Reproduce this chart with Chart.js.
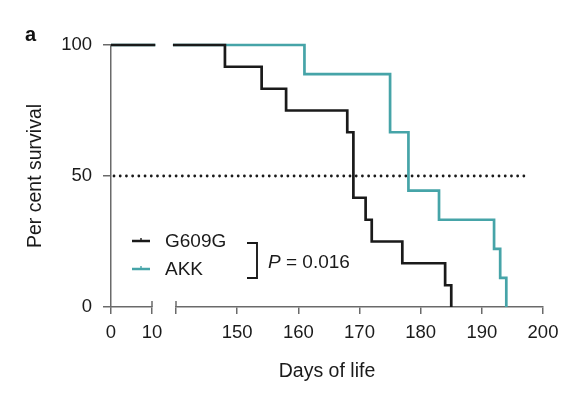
<!DOCTYPE html>
<html>
<head>
<meta charset="utf-8">
<script src="https://cdn.jsdelivr.net/npm/chart.js@4.4.0/dist/chart.umd.min.js"></script>
<style>
  html, body { margin: 0; padding: 0; background: #ffffff; }
  #wrap { width: 576px; height: 405px; position: relative; }
</style>
</head>
<body>
<div id="wrap"><canvas id="c" width="576" height="405"></canvas></div>
<script>
// ---------------- data ----------------
const seriesNames = ['G609G', 'AKK'];
// early axis segment (days 0-10): all animals alive
const earlyDays = [0, 10.8];
const earlySurvival = [100, 100];
// late axis segment (days 140-200)
const g609gDays = [139.5, 148, 154, 158, 168, 169, 171, 172, 177, 184, 185];
const g609gSurvival = [100, 91.7, 83.3, 75, 66.7, 41.7, 33.3, 25, 16.7, 8.3, 0];
const akkDays = [139.5, 161, 175, 178, 183, 192, 193, 194];
const akkSurvival = [100, 88.9, 66.7, 44.4, 33.3, 22.2, 11.1, 0];
const earlyTicks = [0, 10];
const lateTicks = [140, 150, 160, 170, 180, 190, 200];
const yTicks = [0, 50, 100];
const medianLevel = 50;
const medianLineEnd = 197.5;
const pValueLabel = 'P';
const pValueText = ' = 0.016';
const panelLabel = 'a';
const xTitle = 'Days of life';
const yTitle = 'Per cent survival';

// ---------------- style ----------------
const FONT = "'Liberation Sans', Arial, Helvetica, sans-serif";
const colors = ['#1a1a1a', '#46a4a8'];
const axisColor = '#6a6a6a';
const textColor = '#1a1a1a';
const tickFont = { family: FONT, size: 18.5 };
const titleFont = { family: FONT, size: 19.5 };

function pts(xs, ys) { return xs.map((x, i) => ({ x: x, y: ys[i] })); }

function lineDs(label, data, axis, color) {
  return {
    label: label, data: data, xAxisID: axis, yAxisID: 'y',
    borderColor: color, backgroundColor: color, borderWidth: 2.7,
    stepped: 'before', pointRadius: 0, pointHoverRadius: 0,
    fill: false, clip: false, borderCapStyle: 'butt', borderJoinStyle: 'miter'
  };
}

function xAxis(min, max, tickVals, weight, hideFirst) {
  return {
    type: 'linear', position: 'bottom', stack: 'days', stackWeight: weight,
    min: min, max: max,
    afterBuildTicks: s => { s.ticks = tickVals.map(v => ({ value: v })); },
    afterFit: s => { s.height = 40; },
    ticks: {
      font: tickFont, color: textColor, padding: 8, maxRotation: 0, autoSkip: false,
      callback: v => (hideFirst && v === tickVals[0]) ? '' : String(v)
    },
    grid: { drawOnChartArea: false, drawTicks: true, tickLength: 7, color: axisColor, lineWidth: 1.5 },
    border: { display: true, color: axisColor, width: 1.5 }
  };
}

const extras = {
  id: 'extras',
  beforeDatasetsDraw(chart) {
    const { ctx, chartArea, scales } = chart;
    const yy = scales.y.getPixelForValue(medianLevel);
    ctx.save();
    ctx.strokeStyle = '#1a1a1a';
    ctx.lineWidth = 2.8;
    ctx.lineCap = 'round';
    ctx.setLineDash([0.01, 6.2]);
    ctx.beginPath();
    ctx.moveTo(chartArea.left + 3, yy);
    ctx.lineTo(scales.xb.getPixelForValue(medianLineEnd), yy);
    ctx.stroke();
    ctx.restore();
  },
  afterDraw(chart) {
    const { ctx, chartArea, scales } = chart;
    const L = chartArea.left, B = chartArea.bottom;
    ctx.save();
    // break caps on the axis
    ctx.strokeStyle = axisColor; ctx.lineWidth = 1.5;
    [scales.xa.getPixelForValue(earlyTicks[earlyTicks.length - 1]), scales.xb.getPixelForValue(lateTicks[0])].forEach(px => {
      ctx.beginPath(); ctx.moveTo(px, B - 6); ctx.lineTo(px, B); ctx.stroke();
    });
    // panel label
    ctx.fillStyle = '#111';
    ctx.font = 'bold 20px ' + FONT;
    ctx.textBaseline = 'middle'; ctx.textAlign = 'left';
    ctx.fillText(panelLabel, 25, 35);
    // legend
    const rows = [B - 66, B - 38];
    seriesNames.forEach((name, i) => {
      const y = rows[i];
      ctx.strokeStyle = colors[i]; ctx.lineWidth = 2.5;
      ctx.beginPath(); ctx.moveTo(L + 21, y); ctx.lineTo(L + 39, y); ctx.stroke();
      ctx.lineWidth = 1.4;
      ctx.beginPath(); ctx.moveTo(L + 30, y - 3); ctx.lineTo(L + 30, y); ctx.stroke();
      ctx.fillStyle = textColor;
      ctx.font = '19px ' + FONT;
      ctx.textBaseline = 'middle';
      ctx.fillText(name, L + 54, y + 1);
    });
    // bracket
    ctx.strokeStyle = '#1a1a1a'; ctx.lineWidth = 1.9;
    ctx.beginPath();
    ctx.moveTo(L + 136, B - 64); ctx.lineTo(L + 146, B - 64);
    ctx.lineTo(L + 146, B - 29); ctx.lineTo(L + 136, B - 29);
    ctx.stroke();
    // p value
    ctx.fillStyle = textColor;
    ctx.font = 'italic 19px ' + FONT;
    ctx.fillText(pValueLabel, L + 157, B - 44);
    const pw = ctx.measureText(pValueLabel).width;
    ctx.font = '19px ' + FONT;
    ctx.fillText(pValueText, L + 157 + pw, B - 44);
    ctx.restore();
  }
};

new Chart(document.getElementById('c'), {
  type: 'line',
  data: {
    datasets: [
      lineDs(seriesNames[0], pts(g609gDays, g609gSurvival), 'xb', colors[0]),
      lineDs(seriesNames[0], pts(earlyDays, earlySurvival), 'xa', colors[0]),
      lineDs(seriesNames[1], pts(akkDays, akkSurvival), 'xb', colors[1]),
      lineDs(seriesNames[1], pts(earlyDays, earlySurvival), 'xa', colors[1])
    ]
  },
  options: {
    responsive: false,
    animation: false,
    devicePixelRatio: 1,
    layout: { padding: { top: 45, right: 33, left: 0, bottom: 0 } },
    plugins: { legend: { display: false }, tooltip: { enabled: false } },
    scales: {
      y: {
        type: 'linear', position: 'left', min: 0, max: 100,
        afterBuildTicks: s => { s.ticks = yTicks.map(v => ({ value: v })); },
        afterFit: s => { s.width = 111; },
        ticks: { font: tickFont, color: textColor, padding: 11 },
        grid: { drawOnChartArea: false, drawTicks: true, tickLength: 8, color: axisColor, lineWidth: 1.5 },
        border: { display: true, color: axisColor, width: 1.5 },
        title: { display: true, text: yTitle, font: titleFont, color: textColor, padding: { top: 24.3, bottom: 0 } }
      },
      xa: xAxis(0, 10, earlyTicks, 41, false),
      xgap: {
        type: 'linear', position: 'bottom', stack: 'days', stackWeight: 24,
        min: 0, max: 1, display: false
      },
      xb: xAxis(140, 200, lateTicks, 367, true),
      xt: {
        type: 'linear', position: 'bottom', weight: 1, min: 0, max: 1,
        afterFit: s => { s.height = 58; },
        ticks: { display: false },
        grid: { display: false, drawTicks: false },
        border: { display: false },
        title: { display: true, text: xTitle, font: titleFont, color: textColor, padding: { top: 0, bottom: 21.5 } }
      }
    }
  },
  plugins: [extras]
});
</script>
</body>
</html>
